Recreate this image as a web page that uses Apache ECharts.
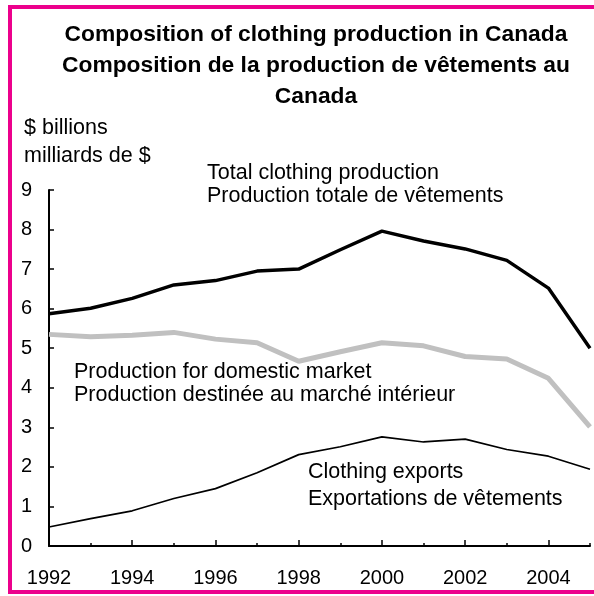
<!DOCTYPE html>
<html>
<head>
<meta charset="utf-8">
<script src="https://cdn.jsdelivr.net/npm/echarts@6/dist/echarts.min.js"></script>
<style>
  html, body { margin: 0; padding: 0; background: #fff; }
  #chart { width: 594px; height: 596px; }
</style>
</head>
<body>
<div id="chart"></div>
<script>
var years = ['1992', '1993', '1994', '1995', '1996', '1997', '1998', '1999', '2000', '2001', '2002', '2003', '2004', '2005'];
var totalProd = [5.87, 6.01, 6.26, 6.60, 6.71, 6.95, 7.00, 7.49, 7.96, 7.71, 7.51, 7.22, 6.52, 5.00];
var domesticProd = [5.35, 5.29, 5.33, 5.40, 5.23, 5.14, 4.67, 4.91, 5.14, 5.06, 4.79, 4.73, 4.24, 3.01];
var exportsProd = [0.48, 0.69, 0.89, 1.20, 1.45, 1.85, 2.31, 2.51, 2.76, 2.63, 2.70, 2.44, 2.27, 1.94];

var font = "'Liberation Sans', Arial, sans-serif";
var noteFont = '21.5px ' + font;

var chart = echarts.init(document.getElementById('chart'));

var option = {
    animation: false,
    backgroundColor: '#fff',
    title: {
        text: 'Composition of clothing production in Canada\nComposition de la production de vêtements au\nCanada',
        left: 316,
        top: 19,
        padding: 0,
        textAlign: 'center',
        textStyle: {
            fontFamily: font,
            fontSize: 22.8,
            fontWeight: 'bold',
            color: '#000',
            lineHeight: 31
        }
    },
    grid: {
        left: 49,
        right: 4,
        top: 190,
        bottom: 50
    },
    xAxis: [{
        type: 'category',
        data: years,
        boundaryGap: false,
        axisLine: { lineStyle: { color: '#000', width: 2 } },
        axisTick: { inside: true, interval: 0, length: 3, lineStyle: { color: '#000', width: 1.5 } },
        axisLabel: { interval: 1, margin: 22, color: '#000', fontFamily: font, fontSize: 20 },
        splitLine: { show: false }
    }, {
        // longer ticks at labelled years
        type: 'category',
        data: years,
        boundaryGap: false,
        position: 'bottom',
        axisLine: { show: false },
        axisTick: { inside: true, interval: 1, length: 6, lineStyle: { color: '#000', width: 1.5 } },
        axisLabel: { show: false },
        splitLine: { show: false }
    }],
    yAxis: {
        type: 'value',
        min: 0,
        max: 9,
        interval: 1,
        axisLine: { show: true, lineStyle: { color: '#000', width: 2 } },
        axisTick: { show: true, inside: true, length: 5, lineStyle: { color: '#000', width: 1.5 } },
        axisLabel: { margin: 17, color: '#000', fontFamily: font, fontSize: 20 },
        splitLine: { show: false }
    },
    graphic: [
        {
            type: 'rect',
            shape: { x: 10, y: 7, width: 600, height: 585 },
            style: { fill: null, stroke: '#ec008c', lineWidth: 4 },
            silent: true
        },
        {
            type: 'text',
            left: 24,
            top: 114,
            style: { text: '$ billions\nmilliards de $', font: noteFont, fill: '#000', lineHeight: 28 }
        },
        {
            type: 'text',
            left: 207,
            top: 162,
            style: { text: 'Total clothing production\nProduction totale de vêtements', font: noteFont, fill: '#000', lineHeight: 23 }
        },
        {
            type: 'text',
            left: 74,
            top: 361,
            style: { text: 'Production for domestic market\nProduction destinée au marché intérieur', font: noteFont, fill: '#000', lineHeight: 23 }
        },
        {
            type: 'text',
            left: 308,
            top: 459,
            style: { text: 'Clothing exports\nExportations de vêtements', font: noteFont, fill: '#000', lineHeight: 26.5 }
        }
    ],
    series: [
        {
            name: 'Production for domestic market',
            type: 'line',
            data: domesticProd,
            showSymbol: false,
            lineStyle: { color: '#c0c0c0', width: 5 },
            z: 2
        },
        {
            name: 'Total clothing production',
            type: 'line',
            data: totalProd,
            showSymbol: false,
            lineStyle: { color: '#000', width: 3.5 },
            z: 3
        },
        {
            name: 'Clothing exports',
            type: 'line',
            data: exportsProd,
            showSymbol: false,
            lineStyle: { color: '#000', width: 1.7 },
            z: 3
        }
    ]
};

chart.setOption(option);
</script>
</body>
</html>
